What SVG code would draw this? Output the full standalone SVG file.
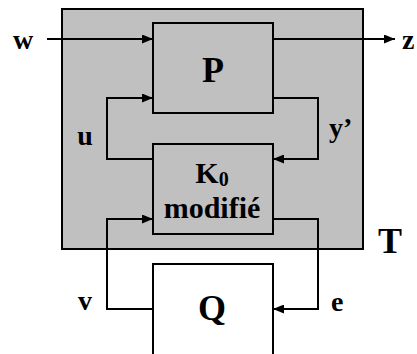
<svg xmlns="http://www.w3.org/2000/svg" width="417" height="354" viewBox="0 0 417 354">
<style>
.box{stroke:#000;stroke-width:2;fill:#c0c0c0}
.wbox{stroke:#000;stroke-width:2;fill:#fff}
.ln{stroke:#000;stroke-width:2;fill:none}
text{font-family:"Liberation Serif","Times New Roman",serif;font-weight:bold;fill:#000}
.big{font-size:36px}
.mid{font-size:30px}
.lbl{font-size:28px}
</style>
<defs>
<marker id="ah" markerUnits="userSpaceOnUse" markerWidth="11" markerHeight="9" refX="11" refY="4.5" orient="auto">
<path d="M0,0 L11,4.5 L0,9 z" fill="#000"/>
</marker>
</defs>
<rect x="0" y="0" width="417" height="354" fill="#fff"/>
<g id="T">
<rect class="box" x="62" y="9" width="301" height="240"/>
<text class="big" x="390" y="253" text-anchor="middle">T</text>
</g>
<g id="P">
<rect class="box" x="153" y="23" width="120" height="90"/>
<text class="big" x="213" y="82" text-anchor="middle">P</text>
</g>
<g id="K0">
<rect class="box" x="153" y="144" width="120" height="90"/>
<text class="mid" x="212" y="183" text-anchor="middle">K<tspan font-size="20" dy="3">0</tspan></text>
<text class="mid" x="212" y="218" text-anchor="middle">modifié</text>
</g>
<g id="Q">
<path class="wbox" d="M153,356 V264 H273 V356"/>
<text class="big" x="212" y="320" text-anchor="middle">Q</text>
</g>
<g id="connectors">
<path class="ln" d="M47,39 H153" marker-end="url(#ah)"/>
<path class="ln" d="M273,39 H395" marker-end="url(#ah)"/>
<path class="ln" d="M153,159 H107 V98 H153" marker-end="url(#ah)"/>
<path class="ln" d="M273,98 H318 V159 H273" marker-end="url(#ah)"/>
<path class="ln" d="M153,309 H107 V219 H153" marker-end="url(#ah)"/>
<path class="ln" d="M273,219 H318 V309 H273" marker-end="url(#ah)"/>
</g>
<g id="labels">
<text class="lbl" x="23" y="49" text-anchor="middle">w</text>
<text class="lbl" x="402" y="49">z</text>
<text class="lbl" x="85" y="145" text-anchor="middle">u</text>
<text class="lbl" x="329" y="137">y’</text>
<text class="lbl" x="85" y="310" text-anchor="middle">v</text>
<text class="lbl" x="331" y="311">e</text>
</g>
</svg>
